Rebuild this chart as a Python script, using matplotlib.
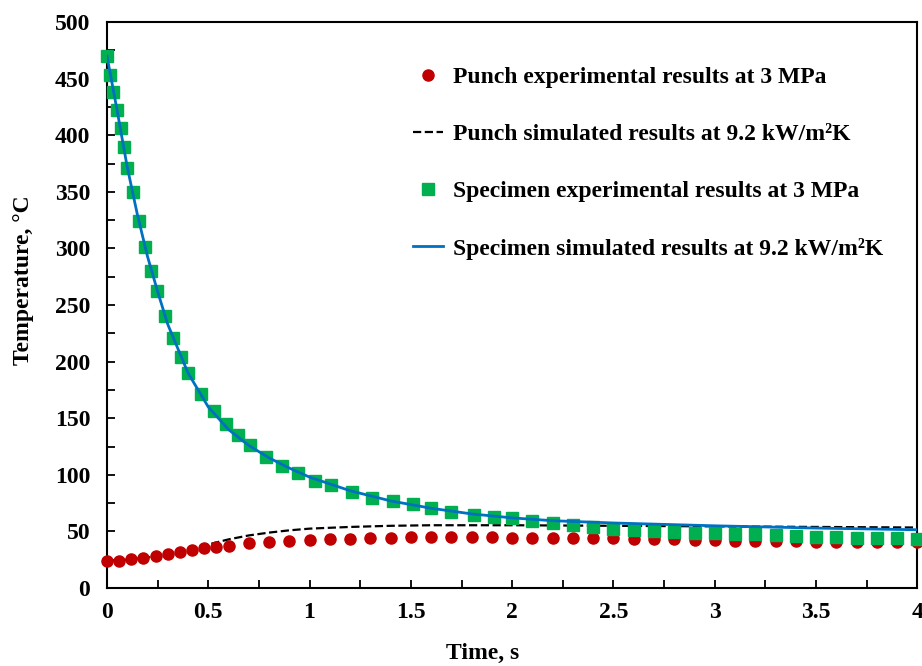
import matplotlib
matplotlib.use("Agg")
import matplotlib.pyplot as plt
from matplotlib.ticker import MultipleLocator

plt.rcParams.update({
    "font.family": ["Liberation Serif", "DejaVu Serif"],
    "font.weight": "bold",
    "axes.labelweight": "bold",
})

# punch experimental (circles)
punch_exp_t = [0, 0.06, 0.12, 0.18, 0.24, 0.30, 0.36, 0.42, 0.48, 0.54, 0.60,
               0.7, 0.8, 0.9, 1.0, 1.1, 1.2, 1.3, 1.4, 1.5, 1.6, 1.7, 1.8, 1.9,
               2.0, 2.1, 2.2, 2.3, 2.4, 2.5, 2.6, 2.7, 2.8, 2.9, 3.0, 3.1, 3.2,
               3.3, 3.4, 3.5, 3.6, 3.7, 3.8, 3.9, 4.0]
punch_exp_T = [24, 24, 25.5, 26.5, 28, 30, 32, 33.5, 35, 36.5, 37.5,
               39.5, 40.5, 41.5, 42.5, 43, 43.5, 44, 44.5, 45, 45, 45, 45, 45,
               44.5, 44.5, 44.5, 44, 44, 44, 43.5, 43, 43, 42.5, 42.5, 42, 42,
               41.5, 41.5, 41, 41, 41, 40.5, 40.5, 40.5]

# punch simulated (dashed)
punch_sim_t = [0, 0.1, 0.2, 0.3, 0.4, 0.5, 0.6, 0.7, 0.8, 0.9, 1.0, 1.2, 1.4,
               1.6, 1.8, 2.0, 2.5, 3.0, 3.5, 4.0]
punch_sim_T = [24, 25, 27, 30, 34, 38.5, 43, 46.5, 49, 51, 52.5, 54, 55,
               55.5, 55.5, 55.5, 55, 54.5, 54, 53.5]

# specimen experimental (squares)
spec_exp_t = [0, 0.015, 0.03, 0.05, 0.07, 0.085, 0.10, 0.13, 0.16, 0.188,
              0.217, 0.247, 0.286, 0.326, 0.365, 0.40, 0.464, 0.528, 0.588,
              0.647, 0.706, 0.785, 0.864, 0.943, 1.027, 1.106, 1.21, 1.31,
              1.41, 1.51, 1.60, 1.70, 1.81, 1.91, 2.0, 2.1, 2.2, 2.3, 2.4, 2.5,
              2.6, 2.7, 2.8, 2.9, 3.0, 3.1, 3.2, 3.3, 3.4, 3.5, 3.6, 3.7, 3.8,
              3.9, 4.0]
spec_exp_T = [470, 453, 438, 422, 406, 390, 371, 350, 324, 301,
              280, 262, 240, 221, 204, 190, 171, 156, 145,
              135, 126, 116, 108, 102, 95, 91, 85, 80,
              77, 74, 70.5, 67.5, 64.5, 63, 61.5, 59.5, 57.5, 55.5, 54, 52.5,
              51.5, 50.5, 49.5, 49, 48.5, 48, 47.5, 46.5, 46, 45.5, 45, 44.5, 44,
              44, 43.5]

# specimen simulated (solid blue)
spec_sim_t = [0, 0.05, 0.1, 0.15, 0.2, 0.25, 0.3, 0.4, 0.5, 0.6, 0.7, 0.8,
              0.9, 1.0, 1.2, 1.4, 1.6, 1.8, 2.0, 2.2, 2.5, 2.8, 3.0, 3.5, 4.0]
spec_sim_T = [470, 422, 372, 330, 293, 262, 233, 190, 160, 140, 126, 115,
              106, 98, 86, 77, 70.5, 65.5, 62, 59.5, 57.5, 56, 55, 53, 51.5]

fig = plt.figure(figsize=(9.22, 6.66), dpi=100)
ax = fig.add_axes([0.116, 0.117, 0.879, 0.85])

ax.plot(punch_exp_t, punch_exp_T, 'o', color='#c00000', markersize=8,
        label="Punch experimental results at 3 MPa", zorder=3, clip_on=False)
ax.plot(punch_sim_t, punch_sim_T, '--', color='black', linewidth=1.6,
        label="Punch simulated results at 9.2 kW/m²K", zorder=2)
ax.plot(spec_exp_t, spec_exp_T, 's', color='#00b050', markersize=8,
        label="Specimen experimental results at 3 MPa", zorder=4, clip_on=False)
ax.plot(spec_sim_t, spec_sim_T, '-', color='#0070c0', linewidth=2,
        label="Specimen simulated results at 9.2 kW/m²K", zorder=5)

ax.set_xlim(0, 4)
ax.set_ylim(0, 500)
ax.xaxis.set_minor_locator(MultipleLocator(0.25))
ax.yaxis.set_major_locator(MultipleLocator(50))
ax.yaxis.set_minor_locator(MultipleLocator(25))
ax.set_xticks([0, 0.5, 1, 1.5, 2, 2.5, 3, 3.5, 4])
ax.set_xticklabels(["0", "0.5", "1", "1.5", "2", "2.5", "3", "3.5", "4"])
ax.tick_params(which='both', direction='in', length=6, width=1.3,
               labelsize=17, top=False, right=False)
ax.tick_params(axis='x', which='both', pad=10)
ax.tick_params(axis='y', which='both', pad=12)
for s in ax.spines.values():
    s.set_linewidth(1.5)

ax.set_xlabel("Time, s", fontsize=17)
ax.set_ylabel("Temperature, °C", fontsize=17)
ax.xaxis.set_label_coords(0.464, -0.097)
ax.yaxis.set_label_coords(-0.09, 0.544)

ax.legend(loc='upper left', bbox_to_anchor=(0.378, 0.921), frameon=False,
          borderaxespad=0, borderpad=0, labelspacing=1.5,
          handlelength=1.27, handletextpad=0.42,
          prop={'weight': 'bold', 'size': 17})

fig.savefig("out.png", dpi=100)
